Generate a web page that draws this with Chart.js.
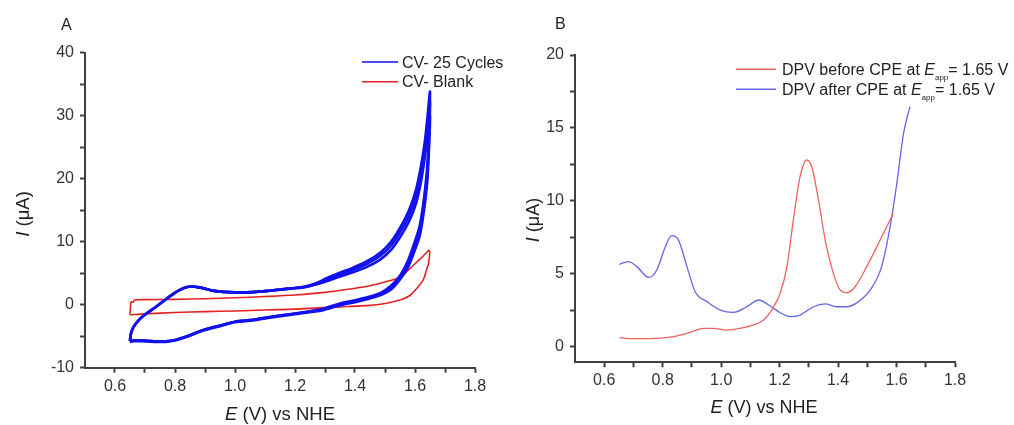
<!DOCTYPE html>
<html>
<head>
<meta charset="utf-8">
<script src="https://cdn.jsdelivr.net/npm/chart.js@4.4.1/dist/chart.umd.min.js"></script>
<style>
    html, body { margin: 0; padding: 0; background: #fff; }
    #wrap { position: relative; width: 1014px; height: 425px; overflow: hidden; }
    canvas { position: absolute; top: 0; }
    #chartA { left: 0; }
    #chartB { left: 507px; }
</style>
</head>
<body>
<div id="wrap">
    <canvas id="chartA" width="520" height="425"></canvas>
    <canvas id="chartB" width="507" height="425"></canvas>
</div>
<script>
// ---- Panel A : CV, 25 cycles vs blank ----
const cvFwdE   = [0.650, 0.652, 0.661, 0.680, 0.705, 0.735, 0.760, 0.785, 0.810, 0.845, 0.880, 0.930, 1.000, 1.060, 1.120, 1.180, 1.230, 1.270, 1.305, 1.345, 1.390, 1.440, 1.485, 1.520, 1.550, 1.580, 1.603, 1.620, 1.633, 1.643, 1.650];
const cvFwdI1  = [-5.8, -4.8, -3.6, -2.4, -1.4, -0.4, 0.5, 1.4, 2.2, 2.85, 2.75, 2.2, 1.95, 2.0, 2.25, 2.55, 2.85, 3.4, 4.2, 5.0, 5.8, 6.9, 8.3, 10.0, 12.2, 15.0, 18.2, 22.0, 26.0, 30.5, 33.8];
const cvFwdI2  = [-5.8, -4.8, -3.6, -2.4, -1.4, -0.4, 0.5, 1.4, 2.2, 2.85, 2.75, 2.2, 1.95, 2.0, 2.25, 2.55, 2.8, 3.3, 3.95, 4.7, 5.5, 6.5, 7.8, 9.4, 11.5, 14.1, 17.2, 20.8, 24.8, 29.2, 32.2];
const cvFwdI3  = [-5.8, -4.8, -3.6, -2.4, -1.4, -0.4, 0.5, 1.4, 2.2, 2.85, 2.75, 2.2, 1.95, 2.0, 2.25, 2.55, 2.75, 3.2, 3.7, 4.4, 5.1, 6.0, 7.2, 8.7, 10.7, 13.2, 16.0, 19.5, 23.5, 27.5, 30.0];
const cvRevE   = [1.646, 1.640, 1.628, 1.615, 1.595, 1.575, 1.550, 1.520, 1.490, 1.450, 1.400, 1.350, 1.290, 1.230, 1.170, 1.110, 1.060, 1.000, 0.950, 0.895, 0.840, 0.800, 0.770, 0.730, 0.690, 0.660, 0.650];
const cvRevI1  = [27.0, 21.5, 16.2, 12.4, 9.4, 6.8, 4.6, 3.0, 2.0, 1.3, 0.7, 0.2, -0.7, -1.2, -1.6, -2.0, -2.4, -2.7, -3.3, -4.0, -5.0, -5.6, -5.8, -5.8, -5.7, -5.7, -5.8];
const cvRevI2  = [25.5, 20.3, 15.3, 11.6, 8.8, 6.3, 4.3, 2.7, 1.8, 1.1, 0.5, 0.0, -0.8, -1.2, -1.6, -2.0, -2.4, -2.7, -3.3, -4.0, -5.0, -5.6, -5.8, -5.8, -5.7, -5.7, -5.8];
const cvRevI3  = [24.0, 19.0, 14.3, 10.8, 8.1, 5.8, 4.0, 2.4, 1.6, 1.0, 0.4, -0.1, -0.9, -1.3, -1.7, -2.1, -2.5, -2.8, -3.4, -4.1, -5.1, -5.7, -5.9, -5.9, -5.8, -5.8, -5.9];
const blankE   = [0.650, 0.652, 0.655, 0.660, 0.665, 0.700, 0.800, 0.900, 1.000, 1.100, 1.200, 1.300, 1.400, 1.450, 1.500, 1.550, 1.600, 1.625, 1.648, 1.645, 1.640, 1.628, 1.610, 1.584, 1.560, 1.530, 1.500, 1.450, 1.350, 1.280, 1.200, 1.100, 1.000, 0.900, 0.800, 0.700, 0.650];
const blankI   = [-1.6, 0.0, 0.5, 0.4, 0.75, 0.8, 0.85, 0.95, 1.1, 1.3, 1.55, 1.95, 2.6, 3.0, 3.6, 4.4, 6.5, 7.6, 8.6, 6.5, 5.8, 4.0, 2.8, 1.5, 0.9, 0.5, 0.2, -0.1, -0.35, -0.5, -0.7, -0.85, -1.0, -1.1, -1.25, -1.45, -1.6];

// ---- Panel B : DPV before / after CPE ----
const dpvBeforeE = [0.652, 0.700, 0.757, 0.837, 0.894, 0.940, 0.974, 1.019, 1.065, 1.111, 1.145, 1.173, 1.202, 1.225, 1.247, 1.270, 1.293, 1.310, 1.333, 1.356, 1.384, 1.407, 1.430, 1.458, 1.498, 1.544, 1.589];
const dpvBeforeI = [0.62, 0.55, 0.55, 0.69, 0.98, 1.26, 1.26, 1.14, 1.26, 1.49, 1.83, 2.51, 3.66, 5.49, 8.69, 11.66, 12.8, 12.34, 10.06, 7.31, 5.03, 3.89, 3.7, 4.11, 5.49, 7.31, 9.14];
const dpvAfterE  = [0.652, 0.683, 0.712, 0.752, 0.780, 0.809, 0.831, 0.854, 0.883, 0.911, 0.951, 0.997, 1.042, 1.088, 1.128, 1.168, 1.202, 1.236, 1.270, 1.316, 1.356, 1.395, 1.430, 1.470, 1.510, 1.549, 1.578, 1.601, 1.624, 1.646];
const dpvAfterI  = [5.65, 5.83, 5.49, 4.75, 5.26, 6.86, 7.61, 7.31, 5.49, 3.77, 3.09, 2.51, 2.35, 2.74, 3.2, 2.79, 2.33, 2.06, 2.17, 2.74, 2.93, 2.74, 2.74, 3.09, 3.89, 5.49, 8.23, 11.2, 14.63, 16.46];

// ---- axes ----
const xTicks      = [0.6, 0.7, 0.8, 0.9, 1.0, 1.1, 1.2, 1.3, 1.4, 1.5, 1.6, 1.7, 1.8];
const xTickLabels = ['0.6', '', '0.8', '', '1.0', '', '1.2', '', '1.4', '', '1.6', '', '1.8'];
const yTicksA      = [-10, -5, 0, 5, 10, 15, 20, 25, 30, 35, 40];
const yTickLabelsA = ['-10', '', '0', '', '10', '', '20', '', '30', '', '40'];
const yTicksB      = [0, 2.5, 5, 7.5, 10, 12.5, 15, 17.5, 20];
const yTickLabelsB = ['0', '', '5', '', '10', '', '15', '', '20'];

const FONT = "'Liberation Sans', Arial, sans-serif";
const AXIS = '#404040';

function pts(xs, ys) { return xs.map((x, i) => ({ x: x, y: ys[i] })); }

function axis(min, max, ticks, labels, fit, pad) {
    return {
        type: 'linear', min: min, max: max,
        afterBuildTicks: s => { s.ticks = ticks.map(v => ({ value: v })); },
        afterFit: fit,
        grid: { drawOnChartArea: false, drawTicks: true, tickLength: 5, tickWidth: 2, tickColor: AXIS },
        border: { display: true, color: AXIS, width: 2 },
        ticks: {
            autoSkip: false, maxRotation: 0, minRotation: 0, padding: pad, color: '#333',
            font: { family: FONT, size: 16 },
            callback: (v, i) => labels[i]
        }
    };
}

// draws text made of parts (italic letters, subscripts)
function mixedText(ctx, parts, x, y, align) {
    let w = 0;
    parts.forEach(p => { ctx.font = p.font; w += ctx.measureText(p.t).width; });
    let cx = align === 'center' ? x - w / 2 : x;
    parts.forEach(p => {
        ctx.font = p.font;
        ctx.fillText(p.t, cx, y + (p.dy || 0));
        cx += ctx.measureText(p.t).width;
    });
}

function decor(cfg) {
    return {
        id: 'decor',
        afterDraw(chart) {
            const ctx = chart.ctx;
            ctx.save();
            ctx.fillStyle = '#222';
            ctx.textBaseline = 'alphabetic';
            ctx.textAlign = 'left';
            ctx.font = '16px ' + FONT;
            ctx.fillText(cfg.letter, cfg.letterX, cfg.letterY);

            // x title
            mixedText(ctx, [
                { t: 'E', font: 'italic ' + cfg.titleSize + 'px ' + FONT },
                { t: ' (V) vs NHE', font: cfg.titleSize + 'px ' + FONT }
            ], cfg.xTitleX, cfg.xTitleY, 'center');

            // y title
            ctx.save();
            ctx.translate(cfg.yTitleX, cfg.yTitleY);
            ctx.rotate(-Math.PI / 2);
            mixedText(ctx, [
                { t: 'I', font: 'italic ' + cfg.titleSize + 'px ' + FONT },
                { t: ' (\u03bcA)', font: cfg.titleSize + 'px ' + FONT }
            ], 0, 6, 'center');
            ctx.restore();

            // legend
            cfg.legend.forEach(item => {
                ctx.strokeStyle = item.color;
                ctx.lineWidth = 1.5;
                ctx.beginPath();
                ctx.moveTo(cfg.legX0, item.y);
                ctx.lineTo(cfg.legX1, item.y);
                ctx.stroke();
                ctx.fillStyle = '#222';
                mixedText(ctx, item.parts, cfg.legText, item.y + 5.5, 'left');
            });
            ctx.restore();
        }
    };
}

const blue = '#1212ee';
const red = '#e52222';

new Chart(document.getElementById('chartA'), {
    type: 'line',
    data: {
        datasets: [
            { data: pts(cvFwdE.concat(cvRevE), cvFwdI3.concat(cvRevI3)), borderColor: blue, borderWidth: 2.6 },
            { data: pts(cvFwdE.concat(cvRevE), cvFwdI2.concat(cvRevI2)), borderColor: blue, borderWidth: 2.6 },
            { data: pts(cvFwdE.concat(cvRevE), cvFwdI1.concat(cvRevI1)), borderColor: blue, borderWidth: 2.6 },
            { data: pts(blankE, blankI), borderColor: red, borderWidth: 1.6 }
        ]
    },
    options: {
        responsive: false, animation: false,
        layout: { padding: { left: 0, top: 52.7, right: 45, bottom: 0 } },
        elements: { point: { radius: 0 }, line: { tension: 0.3 } },
        plugins: { legend: { display: false }, tooltip: { enabled: false } },
        scales: {
            x: axis(0.5, 1.8, xTicks, xTickLabels, s => { s.height = 57.3; }, 4),
            y: axis(-10, 40, yTicksA, yTickLabelsA, s => { s.width = 85; }, 6)
        }
    },
    plugins: [decor({
        letter: 'A', letterX: 61, letterY: 30, titleSize: 18.5,
        xTitleX: 280, xTitleY: 420, yTitleX: 23, yTitleY: 214,
        legX0: 362, legX1: 398, legText: 402,
        legend: [
            { color: blue, y: 62, parts: [{ t: 'CV- 25 Cycles', font: '16px ' + FONT }] },
            { color: red, y: 81.7, parts: [{ t: 'CV- Blank', font: '16px ' + FONT }] }
        ]
    })]
});

const redB = '#f06262';
const blueB = '#6666e8';
const legFont = '16px ' + FONT;

new Chart(document.getElementById('chartB'), {
    type: 'line',
    data: {
        datasets: [
            { data: pts(dpvBeforeE, dpvBeforeI), borderColor: redB, borderWidth: 1.3 },
            { data: pts(dpvAfterE, dpvAfterI), borderColor: blueB, borderWidth: 1.3 }
        ]
    },
    options: {
        responsive: false, animation: false,
        layout: { padding: { left: 0, top: 55, right: 59, bottom: 0 } },
        elements: { point: { radius: 0 }, line: { tension: 0.4, cubicInterpolationMode: 'monotone' } },
        plugins: { legend: { display: false }, tooltip: { enabled: false } },
        scales: {
            x: axis(0.5, 1.8, xTicks, xTickLabels, s => { s.height = 62.7; }, 4),
            y: axis(-1.07, 20, yTicksB, yTickLabelsB, s => { s.width = 68; }, 6)
        }
    },
    plugins: [decor({
        letter: 'B', letterX: 48, letterY: 29, titleSize: 18,
        xTitleX: 257, xTitleY: 413, yTitleX: 26, yTitleY: 220,
        legX0: 229, legX1: 269, legText: 275,
        legend: [
            { color: redB, y: 69.3, parts: [
                { t: 'DPV before CPE at ', font: legFont },
                { t: 'E', font: 'italic ' + legFont },
                { t: 'app', font: '8px ' + FONT, dy: 5 },
                { t: '= 1.65 V', font: legFont }
            ] },
            { color: blueB, y: 89.3, parts: [
                { t: 'DPV after CPE at ', font: legFont },
                { t: 'E', font: 'italic ' + legFont },
                { t: 'app', font: '8px ' + FONT, dy: 5 },
                { t: '= 1.65 V', font: legFont }
            ] }
        ]
    })]
});
</script>
</body>
</html>
